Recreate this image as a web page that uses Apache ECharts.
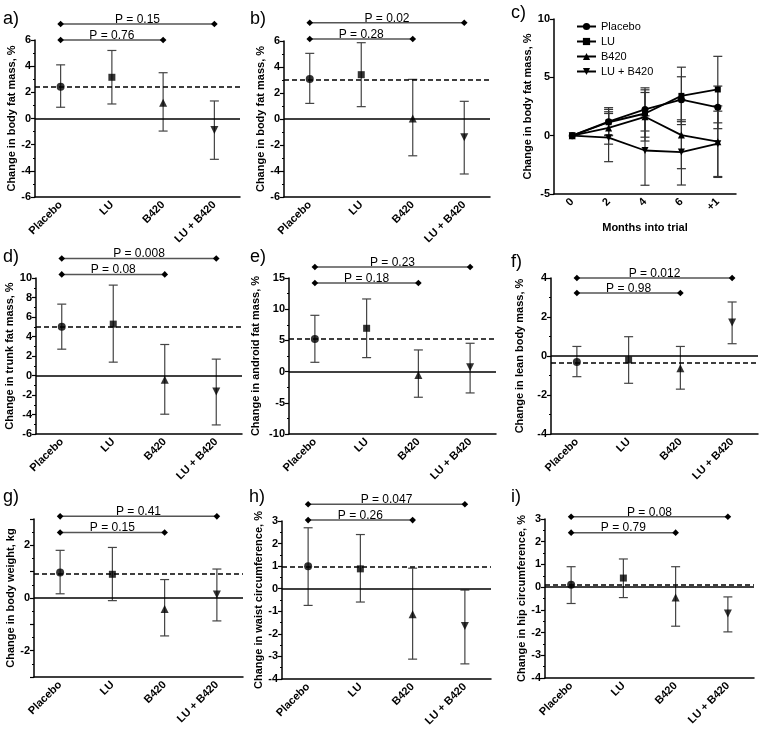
<!DOCTYPE html>
<html><head><meta charset="utf-8">
<script src="https://cdn.jsdelivr.net/npm/echarts@6/dist/echarts.min.js"></script>
<style>html,body{margin:0;padding:0;background:#fff}#c{width:761px;height:730px}</style>
</head><body><div id="c"></div>
<script>
// ---------- DATA ----------
const groups = ['Placebo', 'LU', 'B420', 'LU + B420'];

// a) body fat mass, %
const aMean  = [2.43, 3.15, 1.21, -0.88];
const aUpper = [4.10, 5.20, 3.50, 1.34];
const aLower = [0.86, 1.11, -0.96, -3.12];
const aRef = 2.4;
const aPLevel = [6.0, 7.22];
const aPText  = ['P = 0.76', 'P = 0.15'];

// b) body fat mass, %
const bMean  = [3.08, 3.41, 0.03, -1.41];
const bUpper = [5.05, 5.87, 3.05, 1.36];
const bLower = [1.20, 0.95, -2.83, -4.23];
const bRef = 3.05;
const bPLevel = [6.15, 7.4];
const bPText  = ['P = 0.28', 'P = 0.02'];

// c) body fat mass over time, %
const months = ['0', '2', '4', '6', '+1'];
const cPlacebo      = [0, 1.20, 2.25, 3.08, 2.43];
const cPlaceboUpper = [0, 2.40, 4.10, 5.05, 4.25];
const cPlaceboLower = [0, 0.00, 0.40, 1.20, 0.60];
const cLU           = [0, 1.15, 1.90, 3.41, 3.96];
const cLUUpper      = [0, 2.25, 3.93, 5.87, 6.80];
const cLULower      = [0, 0.05, -0.13, 0.95, 1.10];
const cB420         = [0, 0.66, 1.62, 0.05, -0.52];
const cB420Upper    = [0, 2.05, 3.70, 3.05, 2.55];
const cB420Lower    = [0, -0.73, -0.46, -2.83, -3.58];
const cLUB          = [0, -0.17, -1.27, -1.41, -0.69];
const cLUBUpper     = [0, 1.90, 1.70, 1.36, 2.10];
const cLUBLower     = [0, -2.23, -4.25, -4.23, -3.50];

// d) trunk fat mass, %
const dMean  = [5.00, 5.27, -0.44, -1.64];
const dUpper = [7.32, 9.27, 3.18, 1.68];
const dLower = [2.70, 1.37, -3.97, -5.07];
const dRef = 5.0;
const dPLevel = [10.37, 12.0];
const dPText  = ['P = 0.08', 'P = 0.008'];

// e) android fat mass, %
const eMean  = [5.23, 6.94, -0.53, 0.69];
const eUpper = [9.02, 11.64, 3.47, 4.54];
const eLower = [1.49, 2.24, -4.11, -3.42];
const eRef = 5.2;
const ePLevel = [14.2, 16.76];
const ePText  = ['P = 0.18', 'P = 0.23'];

// f) lean body mass, %
const fMean  = [-0.31, -0.20, -0.63, 1.72];
const fUpper = [0.49, 0.99, 0.49, 2.77];
const fLower = [-1.06, -1.40, -1.70, 0.63];
const fRef = -0.34;
const fPLevel = [3.23, 4.0];
const fPText  = ['P = 0.98', 'P = 0.012'];

// g) body weight, kg
const gMean  = [0.97, 0.90, -0.42, 0.13];
const gUpper = [1.81, 1.92, 0.70, 1.10];
const gLower = [0.16, -0.10, -1.44, -0.87];
const gRef = 0.92;
const gPLevel = [2.49, 3.1];
const gPText  = ['P = 0.15', 'P = 0.41'];

// h) waist circumference, %
const hMean  = [1.00, 0.88, -1.13, -1.65];
const hUpper = [2.70, 2.40, 0.91, -0.06];
const hLower = [-0.74, -0.59, -3.12, -3.33];
const hRef = 0.99;
const hPLevel = [3.04, 3.74];
const hPText  = ['P = 0.26', 'P = 0.047'];

// i) hip circumference, %
const iMean  = [0.10, 0.40, -0.46, -1.16];
const iUpper = [0.90, 1.24, 0.90, -0.43];
const iLower = [-0.72, -0.46, -1.72, -1.97];
const iRef = 0.09;
const iPLevel = [2.4, 3.1];
const iPText  = ['P = 0.79', 'P = 0.08'];

// comparison ends (Placebo vs B420, Placebo vs LU + B420)
const pFrom = [0, 0];
const pTo   = [2, 3];

// ---------- STYLE / LAYOUT ----------
const FONT = 'Liberation Sans, Arial, sans-serif';
const symbols = ['circle', 'rect', 'triangle', 'triangle'];
const symRot  = [0, 0, 0, 180];
const symSize = [8, 7, 8, 8];
const ERR = '#444';

const panels = [
  {id:'a', mean:aMean, up:aUpper, lo:aLower, ref:aRef, pl:aPLevel, pt:aPText,
   grid:{left:35, top:40, width:205, height:157}, min:-6, max:6, interval:2, minor:2,
   name:'Change in body fat mass, %', gap:14, lab:{left:3, top:10}},
  {id:'b', mean:bMean, up:bUpper, lo:bLower, ref:bRef, pl:bPLevel, pt:bPText,
   grid:{left:284, top:41, width:206, height:156}, min:-6, max:6, interval:2, minor:2,
   name:'Change in body fat mass, %', gap:18, lab:{left:250, top:10}},
  {id:'d', mean:dMean, up:dUpper, lo:dLower, ref:dRef, pl:dPLevel, pt:dPText,
   grid:{left:36, top:278, width:206, height:156}, min:-6, max:10, interval:2, minor:2,
   name:'Change in trunk fat mass, %', gap:12, lab:{left:3, top:248}},
  {id:'e', mean:eMean, up:eUpper, lo:eLower, ref:eRef, pl:ePLevel, pt:ePText,
   grid:{left:289, top:278, width:207, height:156}, min:-10, max:15, interval:5, minor:2,
   name:'Change in android fat mass, %', gap:28, lab:{left:250, top:248}},
  {id:'f', mean:fMean, up:fUpper, lo:fLower, ref:fRef, pl:fPLevel, pt:fPText,
   grid:{left:551, top:278, width:207, height:156}, min:-4, max:4, interval:2, minor:2,
   name:'Change in lean body mass, %', gap:26, lab:{left:511, top:253}},
  {id:'g', mean:gMean, up:gUpper, lo:gLower, ref:gRef, pl:gPLevel, pt:gPText,
   grid:{left:34, top:519, width:209, height:158}, min:-3, max:3, interval:1, minor:2,
   evenOnly:true,
   name:'Change in body weight, kg', gap:12, lab:{left:3, top:488}},
  {id:'h', mean:hMean, up:hUpper, lo:hLower, ref:hRef, pl:hPLevel, pt:hPText,
   grid:{left:282, top:521, width:209, height:158}, min:-4, max:3, interval:1, minor:2,
   name:'Change in waist circumference, %', gap:16, lab:{left:249, top:488}},
  {id:'i', mean:iMean, up:iUpper, lo:iLower, ref:iRef, pl:iPLevel, pt:iPText,
   grid:{left:545, top:519, width:209, height:159}, min:-4, max:3, interval:1, minor:2,
   name:'Change in hip circumference, %', gap:16, lab:{left:511, top:488}}
];

const grids = [], xAxes = [], yAxes = [], series = [], titles = [];

function yAxisDef(k, p) {
  return {
    gridIndex:k, type:'value', min:p.min, max:p.max, interval:p.interval,
    name:p.name, nameLocation:'middle', nameGap:p.gap,
    nameTextStyle:{fontFamily:FONT, fontSize:11, fontWeight:'bold', color:'#000'},
    axisLine:{show:true, lineStyle:{color:'#000', width:1.5}},
    axisTick:{show:true, length:4, lineStyle:{color:'#000', width:1.2}},
    minorTick:{show:p.minor > 0, splitNumber:p.minor || 2, length:2, lineStyle:{color:'#000', width:1}},
    splitLine:{show:false},
    axisLabel:{fontFamily:FONT, fontSize:11, fontWeight:'bold', color:'#000', margin:4,
      formatter: p.evenOnly ? (v => (Math.abs(v) % 2 === 0 ? String(v) : '')) : (v => String(v))}
  };
}
function xAxisDef(k, cats) {
  return {
    gridIndex:k, type:'category', data:cats, boundaryGap:true,
    axisLine:{onZero:false, lineStyle:{color:'#000', width:1.5}},
    axisTick:{alignWithLabel:true, length:4, lineStyle:{color:'#000', width:1.2}},
    axisLabel:{interval:0, rotate:45, fontFamily:FONT, fontSize:11, fontWeight:'bold', color:'#000', margin:6},
    splitLine:{show:false}
  };
}
function errRender(color) {
  return function (params, api) {
    const x = api.value(0), lo = api.value(1), hi = api.value(2);
    const a = api.coord([x, hi]), b = api.coord([x, lo]);
    const w = 4.5, st = {stroke:color, lineWidth:1.2};
    return {type:'group', children:[
      {type:'line', shape:{x1:a[0], y1:a[1], x2:b[0], y2:b[1]}, style:st},
      {type:'line', shape:{x1:a[0]-w, y1:a[1], x2:a[0]+w, y2:a[1]}, style:st},
      {type:'line', shape:{x1:b[0]-w, y1:b[1], x2:b[0]+w, y2:b[1]}, style:st}
    ]};
  };
}
function pRender(texts) {
  return function (params, api) {
    const a = api.coord([api.value(0), api.value(2)]);
    const b = api.coord([api.value(1), api.value(2)]);
    const r = 3.3;
    const dia = c => ({type:'polygon', shape:{points:[[c[0]-r,c[1]],[c[0],c[1]-r],[c[0]+r,c[1]],[c[0],c[1]+r]]},
      style:{fill:'#000'}});
    return {type:'group', children:[
      {type:'line', shape:{x1:a[0], y1:a[1], x2:b[0], y2:b[1]}, style:{stroke:'#555', lineWidth:1.5}},
      dia(a), dia(b),
      {type:'text', x:(a[0]+b[0])/2, y:a[1]+1.5,
       style:{text:texts[params.dataIndex], fill:'#000', font:'12px ' + FONT, align:'center', verticalAlign:'bottom'}}
    ]};
  };
}

// ---- group panels ----
panels.forEach(p => {
  const k = grids.length;
  grids.push(Object.assign({containLabel:false}, p.grid));
  xAxes.push(xAxisDef(k, groups));
  yAxes.push(yAxisDef(k, p));
  titles.push({text:p.id + ')', left:p.lab.left, top:p.lab.top, padding:0,
    textStyle:{fontFamily:FONT, fontSize:18, fontWeight:'normal', color:'#000'}});
  series.push({
    type:'custom', name:p.id + '-err', xAxisIndex:k, yAxisIndex:k, z:2,
    renderItem:errRender(ERR),
    data:p.mean.map((v, i) => [i, p.lo[i], p.up[i]])
  });
  series.push({
    type:'scatter', name:p.id + '-mean', xAxisIndex:k, yAxisIndex:k, z:3,
    data:p.mean.map((v, i) => ({value:[i, v], symbol:symbols[i], symbolSize:symSize[i], symbolRotate:symRot[i]})),
    itemStyle:{color:'#000'},
    markLine:{silent:true, symbol:['none','none'], label:{show:false}, animation:false,
      data:[
        {yAxis:0, lineStyle:{type:'solid', color:'#000', width:1.5}},
        {yAxis:p.ref, lineStyle:{type:[5,3], color:'#000', width:1.5}}
      ]}
  });
  series.push({
    type:'custom', name:p.id + '-p', xAxisIndex:k, yAxisIndex:k, z:4, clip:false,
    renderItem:pRender(p.pt),
    data:p.pl.map((y, j) => [pFrom[j], pTo[j], y])
  });
});

// ---- panel c (time course) ----
(function () {
  const k = grids.length;
  grids.push({left:554, top:19, width:182, height:175});
  const xa = xAxisDef(k, months);
  xa.name = 'Months into trial';
  xa.nameLocation = 'middle';
  xa.nameGap = 28;
  xa.nameTextStyle = {fontFamily:FONT, fontSize:11, fontWeight:'bold', color:'#000'};
  xAxes.push(xa);
  yAxes.push(yAxisDef(k, {min:-5, max:10, interval:5, minor:0, name:'Change in body fat mass, %', gap:11}));
  titles.push({text:'c)', left:511, top:4, padding:0,
    textStyle:{fontFamily:FONT, fontSize:18, fontWeight:'normal', color:'#000'}});
  const sets = [
    [cPlacebo, cPlaceboLower, cPlaceboUpper],
    [cLU, cLULower, cLUUpper],
    [cB420, cB420Lower, cB420Upper],
    [cLUB, cLUBLower, cLUBUpper]
  ];
  sets.forEach((s, g) => {
    series.push({
      type:'custom', name:'c-err-' + g, xAxisIndex:k, yAxisIndex:k, z:2,
      renderItem:errRender('#333'),
      data:s[0].map((v, t) => [t, s[1][t], s[2][t]]).filter(d => d[1] !== d[2])
    });
  });
  sets.forEach((s, g) => {
    series.push({
      type:'line', name:groups[g], xAxisIndex:k, yAxisIndex:k, z:3,
      data:s[0], symbol:symbols[g], symbolSize:symSize[g] - 1, symbolRotate:symRot[g],
      showAllSymbol:true,
      lineStyle:{color:'#000', width:1.8}, itemStyle:{color:'#000'}
    });
  });
})();

const chart = echarts.init(document.getElementById('c'), null, {renderer:'canvas'});
chart.setOption({
  animation:false,
  backgroundColor:'#fff',
  title:titles,
  legend:{
    data:groups, orient:'vertical', left:571, top:16, itemWidth:19, itemHeight:9, itemGap:4,
    textStyle:{fontFamily:FONT, fontSize:11, color:'#000', lineHeight:11},
    inactiveColor:'#999'
  },
  grid:grids, xAxis:xAxes, yAxis:yAxes, series:series
});
</script>
</body></html>
